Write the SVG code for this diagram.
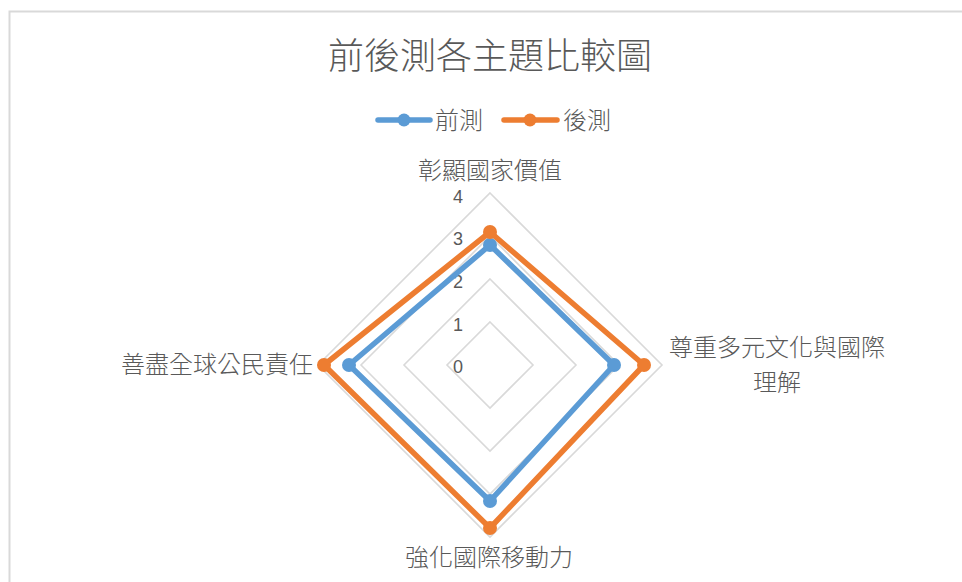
<svg xmlns="http://www.w3.org/2000/svg" width="962" height="582" viewBox="0 0 962 582">
<style>
.t{font-family:"Noto Sans CJK TC","Noto Sans CJK SC",sans-serif;fill:#595959;font-weight:300}
.n{font-family:"Liberation Sans","Noto Sans",sans-serif;fill:#595959}
.grid{fill:none;stroke:#d9d9d9;stroke-width:1.6}
.pre{fill:none;stroke:#5b9bd5;stroke-width:5.5;stroke-linejoin:round}
.post{fill:none;stroke:#ed7d31;stroke-width:5.5;stroke-linejoin:round}
.mpre{fill:#5b9bd5}
.mpost{fill:#ed7d31}
</style>
<rect x="0" y="0" width="962" height="582" fill="#ffffff"/>
<rect x="9.5" y="11.5" width="1000" height="1000" fill="none" stroke="#d9d9d9" stroke-width="2"/>
<g id="title"><text class="t" x="490" y="69" font-size="36" text-anchor="middle">前後測各主題比較圖</text></g>
<g id="legend">
<line x1="378" y1="120" x2="430" y2="120" stroke="#5b9bd5" stroke-width="5.5" stroke-linecap="round"/>
<circle class="mpre" cx="404" cy="120" r="6.5"/>
<text class="t" x="435" y="129" font-size="24">前測</text>
<line x1="504" y1="120" x2="557" y2="120" stroke="#ed7d31" stroke-width="5.5" stroke-linecap="round"/>
<circle class="mpost" cx="530" cy="120" r="6.5"/>
<text class="t" x="563" y="129" font-size="24">後測</text>
</g>
<g id="grid">
<polygon class="grid" points="490,322 533,365 490,408 447,365"/>
<polygon class="grid" points="490,279 576,365 490,451 404,365"/>
<polygon class="grid" points="490,236 619,365 490,494 361,365"/>
<polygon class="grid" points="490,193 662,365 490,537 318,365"/>
</g>
<g id="ticks" class="n" font-size="18" text-anchor="end">
<text x="463" y="203">4</text>
<text x="463" y="245">3</text>
<text x="463" y="288">2</text>
<text x="463" y="331">1</text>
<text x="463" y="373">0</text>
</g>
<g id="connectors">
<polygon class="pre" points="490,245 614,365 490,501 349,365"/>
<polygon class="post" points="490,232 644,365 490,528 324,365"/>
</g>
<g id="series-pre">
<circle class="mpre" cx="490" cy="245" r="7"/>
<circle class="mpre" cx="614" cy="365" r="7"/>
<circle class="mpre" cx="490" cy="501" r="7"/>
<circle class="mpre" cx="349" cy="365" r="7"/>
</g>
<g id="series-post">
<circle class="mpost" cx="490" cy="232" r="7"/>
<circle class="mpost" cx="644" cy="365" r="7"/>
<circle class="mpost" cx="490" cy="528" r="7"/>
<circle class="mpost" cx="324" cy="365" r="7"/>
</g>
<g id="axis-top"><text class="t" x="490" y="179" font-size="24" text-anchor="middle">彰顯國家價值</text></g>
<g id="axis-right">
<text class="t" font-size="24" text-anchor="middle"><tspan x="777" y="356">尊重多元文化與國際</tspan><tspan x="777" y="391">理解</tspan></text>
</g>
<g id="axis-bottom"><text class="t" x="489" y="566" font-size="24" text-anchor="middle">強化國際移動力</text></g>
<g id="axis-left"><text class="t" x="313" y="373" font-size="24" text-anchor="end">善盡全球公民責任</text></g>
</svg>
